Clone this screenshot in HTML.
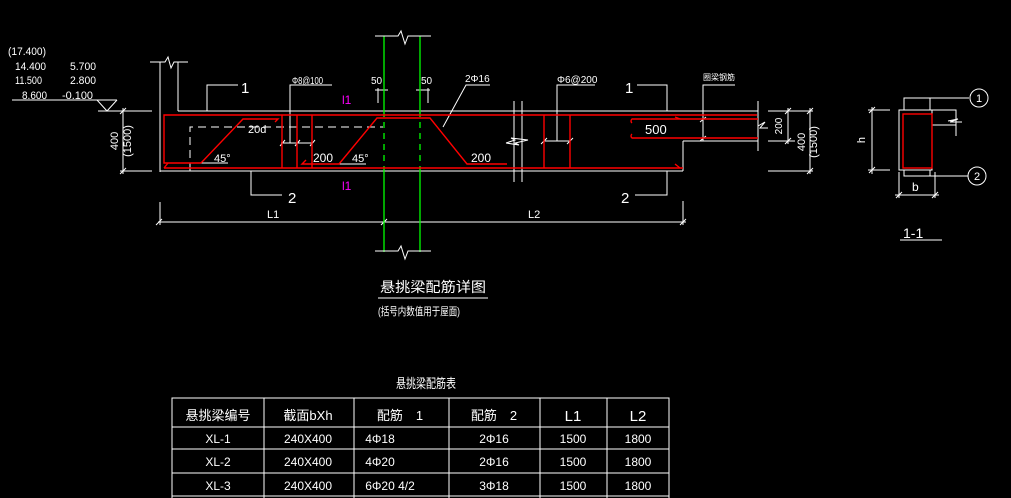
<!DOCTYPE html>
<html><head><meta charset="utf-8"><style>
html,body{margin:0;padding:0;background:#000;width:1011px;height:498px;overflow:hidden}
svg{display:block}
text{font-family:"Liberation Sans","Noto Sans CJK SC",sans-serif;fill:#fff}
</style></head><body>
<svg width="1011" height="498" viewBox="0 0 1011 498" xmlns="http://www.w3.org/2000/svg">
<g stroke="#fff" stroke-width="1" fill="none">
<line x1="12" y1="100" x2="117" y2="100"/>
<polyline points="97,100 107,111 117,100"/>
<line x1="160" y1="62" x2="160" y2="172"/>
<polyline points="150,62 165,62 168,57 171,68 174,62 188,62"/>
<line x1="178" y1="62" x2="178" y2="111"/>
<line x1="178" y1="111" x2="758" y2="111"/>
<line x1="160" y1="171" x2="683" y2="171"/>
<line x1="683" y1="171" x2="683" y2="141"/>
<line x1="683" y1="141" x2="758" y2="141"/>
<line x1="758" y1="101" x2="758" y2="151"/>
<polyline points="758,126 765,122 760,128 768,128"/>
<line x1="98" y1="111" x2="152" y2="111"/>
<line x1="120" y1="171" x2="152" y2="171"/>
<line x1="123" y1="108" x2="123" y2="174"/>
<line x1="120" y1="114" x2="126" y2="108"/><line x1="120" y1="174" x2="126" y2="168"/>
<polyline points="190,171 190,127 383,127" stroke-dasharray="8,5"/>
<polyline points="207,111 207,85 238,85"/>
<polyline points="251,171 251,195 282,195"/>
<polyline points="332,85 290,85 290,143"/>
<line x1="281" y1="143" x2="313" y2="143"/>
<line x1="280" y1="146" x2="285" y2="140"/><line x1="295" y1="146" x2="300" y2="140"/><line x1="310" y1="146" x2="315" y2="140"/>
<line x1="378" y1="88" x2="378" y2="103"/><line x1="428" y1="88" x2="428" y2="103"/>
<line x1="375" y1="90" x2="388" y2="90"/><line x1="416" y1="90" x2="430" y2="90"/>
<polyline points="490,85 466,85 443,127"/>
<line x1="201" y1="163" x2="228" y2="163"/><line x1="339" y1="164" x2="366" y2="164"/>
<line x1="158" y1="222" x2="686" y2="222"/>
<line x1="160" y1="202" x2="160" y2="225"/><line x1="683" y1="201" x2="683" y2="225"/>
<line x1="156" y1="225" x2="162" y2="219"/><line x1="381" y1="225" x2="387" y2="219"/><line x1="680" y1="225" x2="686" y2="219"/>
<line x1="514" y1="101" x2="514" y2="182"/><line x1="522" y1="101" x2="522" y2="182"/>
<polyline points="506,143 515,140 511,138 528,140 515,143 519,145 506,143"/>
<polyline points="595,85 557,85 557,141"/>
<line x1="544" y1="141" x2="570" y2="141"/>
<line x1="541" y1="144" x2="547" y2="138"/><line x1="567" y1="144" x2="573" y2="138"/>
<polyline points="637,85 667,85 667,111"/>
<polyline points="635,195 667,195 667,171"/>
<polyline points="735,85 703,85 703,141"/>
<line x1="700" y1="122" x2="706" y2="117"/><line x1="700" y1="141" x2="706" y2="136"/>
<line x1="768" y1="111" x2="813" y2="111"/><line x1="768" y1="141" x2="795" y2="141"/><line x1="768" y1="171" x2="813" y2="171"/>
<line x1="788" y1="108" x2="788" y2="144"/><line x1="810" y1="108" x2="810" y2="174"/>
<line x1="785" y1="114" x2="791" y2="108"/><line x1="785" y1="144" x2="791" y2="138"/>
<line x1="807" y1="114" x2="813" y2="108"/><line x1="807" y1="174" x2="813" y2="168"/>
<rect x="899" y="110" width="33" height="60"/>
<polyline points="899,110 956,110 956,135"/>
<polyline points="932,125 956,125 956,136"/>
<polyline points="948,121 958,119 950,122 962,122"/>
<polyline points="904,110 904,98 969,98"/><line x1="930" y1="98" x2="930" y2="110"/>
<polyline points="904,170 904,176 968,176"/><line x1="930" y1="170" x2="930" y2="176"/>
<circle cx="979" cy="98" r="9"/><circle cx="977" cy="176" r="9"/>
<line x1="868" y1="110" x2="890" y2="110"/><line x1="868" y1="170" x2="890" y2="170"/>
<line x1="872" y1="107" x2="872" y2="174"/>
<line x1="869" y1="113" x2="875" y2="107"/><line x1="869" y1="173" x2="875" y2="167"/>
<line x1="899" y1="172" x2="899" y2="198"/><line x1="935" y1="172" x2="935" y2="198"/>
<line x1="895" y1="195" x2="939" y2="195"/>
<line x1="896" y1="198" x2="902" y2="192"/><line x1="932" y1="198" x2="938" y2="192"/>
<line x1="900" y1="240" x2="942" y2="240"/>
<line x1="378" y1="298" x2="488" y2="298"/>
<rect x="172" y="398" width="497" height="110"/>
<line x1="172" y1="427" x2="669" y2="427"/><line x1="172" y1="449" x2="669" y2="449"/><line x1="172" y1="473" x2="669" y2="473"/><line x1="172" y1="496" x2="669" y2="496"/>
<line x1="264" y1="398" x2="264" y2="498"/><line x1="354" y1="398" x2="354" y2="498"/><line x1="449" y1="398" x2="449" y2="498"/><line x1="540" y1="398" x2="540" y2="498"/><line x1="607" y1="398" x2="607" y2="498"/>
</g>
<g stroke="#0f0" stroke-width="1.3" fill="none">
<line x1="384" y1="36" x2="384" y2="111"/><line x1="420" y1="36" x2="420" y2="111"/>
<line x1="384" y1="171" x2="384" y2="252"/><line x1="420" y1="171" x2="420" y2="252"/>
<line x1="384" y1="111" x2="384" y2="171" stroke-dasharray="6,5"/><line x1="420" y1="111" x2="420" y2="171" stroke-dasharray="6,5"/>
</g>
<g stroke="#fff" fill="none">
<polyline points="375,36 398,36 401,31 405,44 408,36 431,36"/>
<polyline points="375,251 398,251 401,246 405,259 408,251 431,251"/>
</g>
<g stroke="#f00" stroke-width="1.4" fill="none">
<polyline points="201,163 164,163 164,115 757,115"/>
<polyline points="164,168 168,163"/>
<line x1="164" y1="168" x2="683" y2="168"/>
<polyline points="675,164 680,168"/>
<polyline points="201,163 243,119 278,119 275,122"/>
<line x1="282" y1="115" x2="282" y2="168"/><line x1="297" y1="115" x2="297" y2="168"/><line x1="312" y1="115" x2="312" y2="168"/>
<polyline points="306,160 302,164 339,164 377,118 430,118 467,164 507,164"/>
<line x1="544" y1="115" x2="544" y2="168"/><line x1="570" y1="115" x2="570" y2="168"/>
<path d="M758,119 H632 a2.5,2.5 0 0 0 0,4"/><polyline points="675,117 680,119"/>
<path d="M758,138 H632 a2.5,2.5 0 0 1 0,-4"/>
<rect x="903" y="114" width="29" height="54"/>
</g>
<g font-size="12"><text x="342" y="104" style="fill:#f0f">l1</text><text x="342" y="190" style="fill:#f0f">l1</text></g>
<g font-size="11">
<text x="8" y="55" textLength="38" lengthAdjust="spacingAndGlyphs">(17.400)</text>
<text x="15" y="70" textLength="31" lengthAdjust="spacingAndGlyphs">14.400</text>
<text x="70" y="70" textLength="26" lengthAdjust="spacingAndGlyphs">5.700</text>
<text x="15" y="84" textLength="27" lengthAdjust="spacingAndGlyphs">11.500</text>
<text x="70" y="84" textLength="26" lengthAdjust="spacingAndGlyphs">2.800</text>
<text x="22" y="99" textLength="25" lengthAdjust="spacingAndGlyphs">8.600</text>
<text x="62" y="99" textLength="31" lengthAdjust="spacingAndGlyphs">-0.100</text>
<text x="241" y="93" font-size="15">1</text>
<text x="288" y="203" font-size="15">2</text>
<text x="292" y="84" font-size="10" textLength="31" lengthAdjust="spacingAndGlyphs">Φ8@100</text>
<text x="371" y="84" font-size="10">50</text><text x="421" y="84" font-size="10">50</text>
<text x="465" y="82" font-size="10">2Φ16</text>
<text x="248" y="133" font-size="11">20d</text>
<text x="214" y="162" font-size="11">45°</text><text x="352" y="162" font-size="11">45°</text>
<text x="313" y="162" font-size="12">200</text><text x="471" y="162" font-size="12">200</text>
<text x="267" y="218">L1</text><text x="528" y="218">L2</text>
<text x="557" y="83" font-size="10">Φ6@200</text>
<text x="625" y="93" font-size="15">1</text><text x="621" y="203" font-size="15">2</text>
<text x="703" y="80" font-size="8">圈梁钢筋</text>
<text x="645" y="134" font-size="13">500</text>
<text x="912" y="191" font-size="12">b</text>
<text x="903" y="238" font-size="14">1-1</text>
<text x="380" y="292" font-size="14" textLength="106" lengthAdjust="spacingAndGlyphs">悬挑梁配筋详图</text>
<text x="378" y="315" font-size="11" textLength="82" lengthAdjust="spacingAndGlyphs">(括号内数值用于屋面)</text>
<text x="396" y="388" font-size="13" textLength="60" lengthAdjust="spacingAndGlyphs">悬挑梁配筋表</text>
</g>
<g font-size="11">
<text transform="translate(118,141) rotate(-90)" text-anchor="middle">400</text>
<text transform="translate(131,141) rotate(-90)" text-anchor="middle">(1500)</text>
<text transform="translate(782,126) rotate(-90)" text-anchor="middle" font-size="10">200</text>
<text transform="translate(805,142) rotate(-90)" text-anchor="middle">400</text>
<text transform="translate(817,142) rotate(-90)" text-anchor="middle">(1500)</text>
<text transform="translate(865,140) rotate(-90)" text-anchor="middle">h</text>
<text x="979" y="102" text-anchor="middle">1</text><text x="977" y="180" text-anchor="middle">2</text>
</g>
<g font-size="12" text-anchor="middle">
<text x="218" y="420" font-size="13">悬挑梁编号</text><text x="308" y="420" font-size="13">截面bXh</text>
<text x="400" y="420" font-size="13">配筋　1</text><text x="494" y="420" font-size="13">配筋　2</text>
<text x="573" y="421" font-size="15">L1</text><text x="638" y="421" font-size="15">L2</text>
<text x="218" y="443">XL-1</text><text x="308" y="443">240X400</text><text x="380" y="443">4Φ18</text><text x="494" y="443">2Φ16</text><text x="573" y="443">1500</text><text x="638" y="443">1800</text>
<text x="218" y="466">XL-2</text><text x="308" y="466">240X400</text><text x="380" y="466">4Φ20</text><text x="494" y="466">2Φ16</text><text x="573" y="466">1500</text><text x="638" y="466">1800</text>
<text x="218" y="490">XL-3</text><text x="308" y="490">240X400</text><text x="390" y="490">6Φ20 4/2</text><text x="494" y="490">3Φ18</text><text x="573" y="490">1500</text><text x="638" y="490">1800</text>
</g>
</svg>
</body></html>
